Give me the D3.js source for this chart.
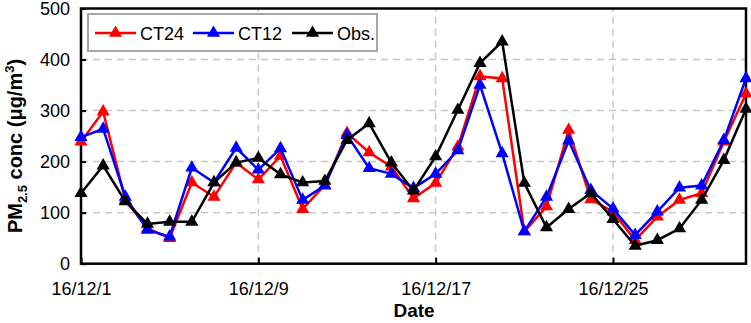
<!DOCTYPE html>
<html>
<head>
<meta charset="utf-8">
<script src="https://cdn.jsdelivr.net/npm/d3@7"></script>
<style>
  body { margin: 0; background: #fff; }
  text { font-family: Arial, "Liberation Sans", sans-serif; }
</style>
</head>
<body>
<script>
// days of December 2016
const days = d3.range(1, 32);
const tickDays = [1, 9, 17, 25];
const yTicks = [0, 100, 200, 300, 400, 500];

const ct24 = [239, 298, 125, 69, 50, 159, 131, 198, 165, 211, 107, 154, 256, 218, 190, 128,
              158, 229, 367, 363, 63, 112, 262, 126, 102, 46, 92, 125, 138, 239, 333];
const ct12 = [248, 264, 131, 66, 53, 188, 159, 227, 184, 226, 125, 153, 252, 187, 176, 148,
              176, 222, 350, 216, 63, 131, 241, 144, 108, 56, 102, 149, 153, 242, 363];
const obs  = [138, 192, 122, 78, 82, 82, 159, 198, 207, 175, 159, 162, 242, 275, 198, 143,
              210, 301, 393, 435, 158, 71, 107, 138, 87, 35, 46, 69, 125, 203, 303];

const series = [
  {name: "CT24", color: "#ff0000", values: ct24},
  {name: "CT12", color: "#0000ff", values: ct12},
  {name: "Obs.", color: "#000000", values: obs}
];

const W = 751, H = 323;
const margin = {left: 81, right: 5, top: 8.5, bottom: 59.3};

const svg = d3.select("body").append("svg")
  .attr("width", W).attr("height", H);

const x = d3.scaleLinear().domain([1, 31]).range([margin.left, W - margin.right]);
const y = d3.scaleLinear().domain([0, 500]).range([H - margin.bottom, margin.top]);

// grid
svg.append("g").selectAll("line.hg")
  .data(yTicks.filter(d => d > 0 && d < 500))
  .enter().append("line")
  .attr("x1", x(1)).attr("x2", x(31))
  .attr("y1", d => y(d)).attr("y2", d => y(d))
  .attr("stroke", "#c8c8c8").attr("stroke-width", 1.5)
  .attr("stroke-dasharray", "7,5");

svg.append("g").selectAll("line.vg")
  .data(tickDays.slice(1))
  .enter().append("line")
  .attr("x1", d => x(d)).attr("x2", d => x(d))
  .attr("y1", y(0)).attr("y2", y(500))
  .attr("stroke", "#c8c8c8").attr("stroke-width", 1.5)
  .attr("stroke-dasharray", "7,5");

// axes
let xAxis = d3.axisBottom(x).tickValues(tickDays).tickSizeInner(-6).tickSizeOuter(0)
  .tickPadding(19).tickFormat(d => "16/12/" + d);
let gx = svg.append("g").attr("transform", `translate(0,${y(0)})`).call(xAxis);

let yAxis = d3.axisLeft(y).tickValues(yTicks).tickSizeInner(-5).tickSizeOuter(0).tickPadding(11);
let gy = svg.append("g").attr("transform", `translate(${x(1)},0)`).call(yAxis);

[gx, gy].forEach(g => {
  g.select(".domain").remove();
  g.selectAll(".tick line").attr("stroke", "#000").attr("stroke-width", 2);
  g.selectAll("text").attr("font-size", 18).attr("fill", "#000")
    .style("font-family", "Arial, 'Liberation Sans', sans-serif");
});

// frame
svg.append("rect")
  .attr("x", x(1)).attr("y", y(500))
  .attr("width", x(31) - x(1)).attr("height", y(0) - y(500))
  .attr("fill", "none").attr("stroke", "#000").attr("stroke-width", 2.5);

// lines and markers
const line = d3.line().x((d, i) => x(days[i])).y(d => y(d));
const tri = d3.symbol().type(d3.symbolTriangle).size(75);

series.forEach(s => {
  svg.append("path").datum(s.values)
    .attr("d", line).attr("fill", "none")
    .attr("stroke", s.color).attr("stroke-width", 2.5);
  svg.append("g").selectAll("path")
    .data(s.values).enter().append("path")
    .attr("d", tri)
    .attr("transform", (d, i) => `translate(${x(days[i])},${y(d)})`)
    .attr("fill", s.color);
});

// legend
const lg = svg.append("g");
lg.append("rect").attr("x", 88).attr("y", 14).attr("width", 289).attr("height", 37)
  .attr("fill", "#fff").attr("stroke", "#a6a6a6").attr("stroke-width", 2);
const legX = [95, 193, 292];
series.forEach((s, i) => {
  let g = lg.append("g").attr("transform", `translate(${legX[i]},33)`);
  g.append("line").attr("x1", 0).attr("x2", 41).attr("stroke", s.color).attr("stroke-width", 2.5);
  g.append("path").attr("d", tri).attr("transform", "translate(20.5,0)").attr("fill", s.color);
  g.append("text").attr("x", 45).attr("y", 6.5).attr("font-size", 18).text(s.name);
});

// axis titles
svg.append("text")
  .attr("x", 414).attr("y", 317)
  .attr("text-anchor", "middle").attr("font-size", 19).attr("font-weight", "bold")
  .text("Date");

const yt = svg.append("text")
  .attr("transform", "translate(22,146) rotate(-90)")
  .attr("text-anchor", "middle").attr("font-size", 20).attr("font-weight", "bold");
yt.append("tspan").text("PM");
yt.append("tspan").attr("font-size", 13).attr("dy", 5).text("2.5");
yt.append("tspan").attr("dy", -5).text(" conc (μg/m");
yt.append("tspan").attr("font-size", 13).attr("dy", -8).text("3");
yt.append("tspan").attr("dy", 8).text(")");
</script>
</body>
</html>
